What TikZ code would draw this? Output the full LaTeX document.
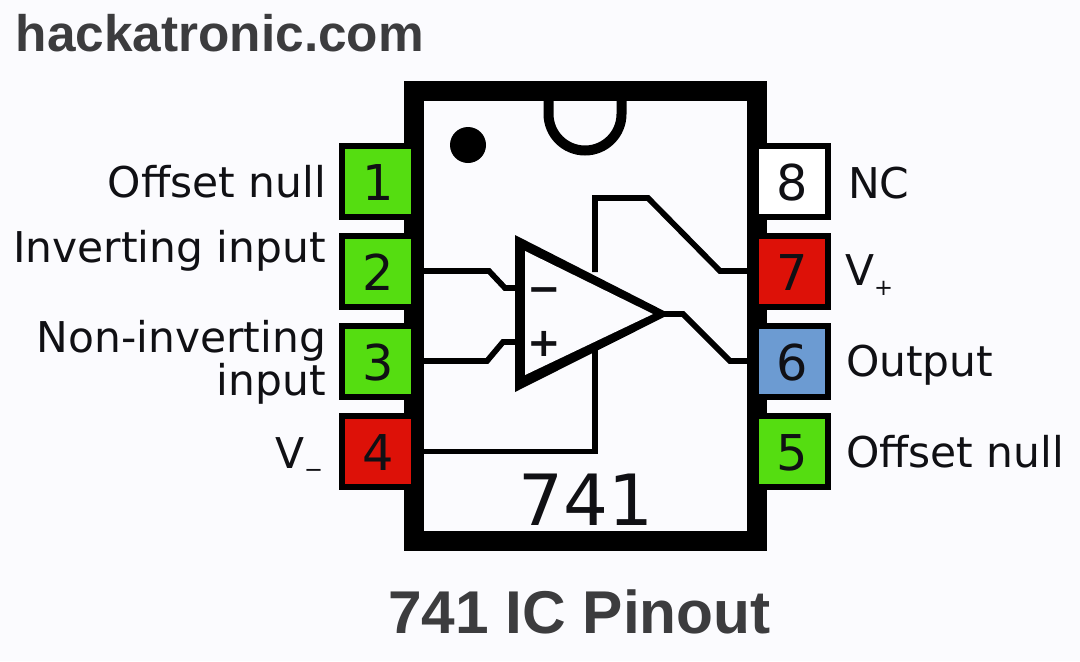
\documentclass[tikz,border=0pt]{standalone}
\usepackage{fontspec}
\setmainfont{DejaVu Sans}
\newfontfamily\titlefont{Liberation Sans}
\definecolor{paper}{RGB}{251,251,254}
\definecolor{ink}{RGB}{16,16,20}
\definecolor{pingreen}{RGB}{85,221,17}
\definecolor{pinred}{RGB}{221,17,8}
\definecolor{pinblue}{RGB}{108,155,210}
\definecolor{titlegray}{RGB}{60,60,62}
\tikzset{
  pinbox/.style={draw=black,line width=4.5pt,minimum width=54pt,minimum height=53.25pt,inner sep=0pt,outer sep=0pt,text=ink,text height=30pt,text depth=0.8pt,font=\fontsize{37}{37}\selectfont},
  wire/.style={draw=black,line width=4.3pt},
  pinlabel/.style={inner sep=0pt,outer sep=0pt,text=ink,font=\fontsize{31.8}{32}\selectfont},
  sitetitle/.style={inner sep=0pt,outer sep=0pt,text=titlegray,font=\titlefont\bfseries\fontsize{38.5}{40}\selectfont},
  figtitle/.style={inner sep=0pt,outer sep=0pt,text=titlegray,font=\titlefont\bfseries\fontsize{45.3}{46}\selectfont}
}
\newcommand{\lowsign}[2]{{\fontsize{17}{17}\selectfont\raisebox{#1}{#2}}}
\begin{document}
\begin{tikzpicture}[x=0.75pt,y=-0.75pt]
\fill[paper] (0,0) rectangle (1080,661);

%chip
\draw[line width=15pt,fill=paper] (414,91) rectangle (757,541);
%notch
\draw[line width=7.5pt] (548.5,96) -- (548.5,114) arc (180:0:36.5) -- (621.5,96);
\node[circle,fill=black,minimum size=27pt,inner sep=0pt] (dot) at (468,145) {};

%left pins
\node[pinbox,fill=pingreen] (pin1) at (378,181.5) {1};
\node[pinbox,fill=pingreen] (pin2) at (378,271) {2};
\node[pinbox,fill=pingreen] (pin3) at (378,361) {3};
\node[pinbox,fill=pinred] (pin4) at (378,451.5) {4};
%right pins
\node[pinbox,fill=white] (pin8) at (792,181.5) {8};
\node[pinbox,fill=pinred] (pin7) at (792,271) {7};
\node[pinbox,fill=pinblue] (pin6) at (792,361) {6};
\node[pinbox,fill=pingreen] (pin5) at (792,451.5) {5};

%opamp corners and ports
\coordinate (oa-top) at (515,235);
\coordinate (oa-bottom) at (515,392);
\coordinate (oa-tip) at (670,314);
\coordinate (oa-minus) at (518,288);
\coordinate (oa-plus) at (518,342);
\coordinate (oa-vplus) at (595,272);
\coordinate (oa-vminus) at (595,350);
\coordinate (oa-out) at (660,314);

%wires
\draw[wire] (pin2.east) -- ++(75,0) -- ++(16,17) -- (oa-minus);
\draw[wire] (pin3.east) -- ++(73,0) -- ++(16,-19) -- (oa-plus);
\draw[wire] (pin4.east) -| (oa-vminus);
\draw[wire] (pin7.west) -- ++(-36,0) -- ++(-72,-73) -- ++(-53,0) -- (oa-vplus);
\draw[wire] (pin6.west) -- ++(-26,0) -- ++(-47,-47) -- (oa-out);

%opamp
\fill[black] (oa-top) -- (oa-tip) -- (oa-bottom) -- cycle;
\fill[paper] (525,251) -- (653,314) -- (525,375) -- cycle;
\node[inner sep=0pt,text=ink,font=\bfseries\fontsize{30}{30}\selectfont] (minus) at (544,295) {−};
\node[inner sep=0pt,text=ink,font=\bfseries\fontsize{30}{30}\selectfont] (plus) at (544,344) {+};

%part number
\node[inner sep=0pt,anchor=base,text=ink,font=\fontsize{53}{53}\selectfont] (part) at (586,525) {741};

%left labels
\node[pinlabel,anchor=base east] (l1) at (326,197) {Offset null};
\node[pinlabel,anchor=base east] (l2) at (326,262) {Inverting input};
\node[pinlabel,anchor=base east] (l3a) at (326,352) {Non-inverting};
\node[pinlabel,anchor=base east] (l3b) at (326,395) {input};
\node[pinlabel,anchor=base east] (l4) at (323,468) {V\lowsign{-7pt}{−}};
%right labels
\node[pinlabel,anchor=base west] (r8) at (848,198) {NC};
\node[pinlabel,anchor=base west] (r7) at (845,285) {V\lowsign{-8pt}{+}};
\node[pinlabel,anchor=base west] (r6) at (846,376) {Output};
\node[pinlabel,anchor=base west] (r5) at (846,467) {Offset null};

%titles
\node[sitetitle,anchor=base west] (site) at (16,51) {hackatronic.com};
\node[figtitle,anchor=base] (title) at (579.5,633) {741 IC Pinout};
\end{tikzpicture}
\end{document}
